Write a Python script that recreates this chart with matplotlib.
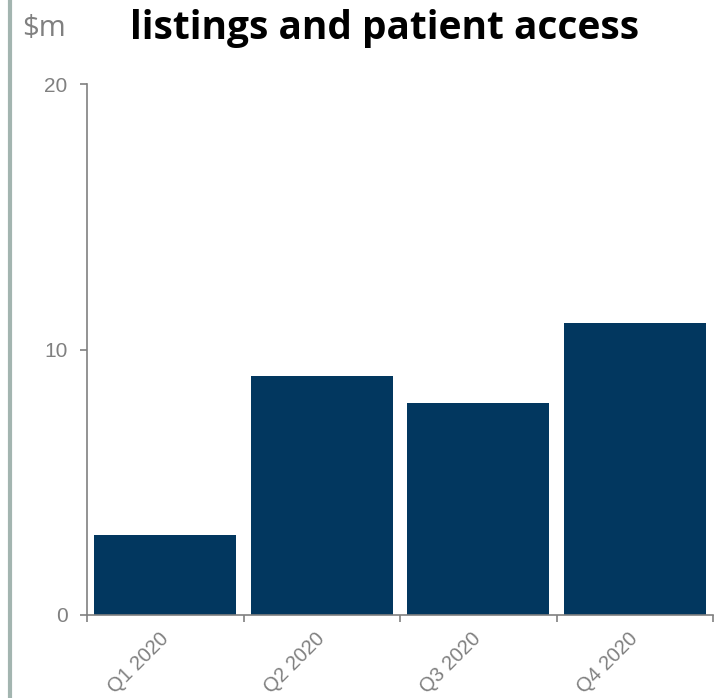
import matplotlib.pyplot as plt
from matplotlib.lines import Line2D
import numpy as np

quarters = ["Q1 2020", "Q2 2020", "Q3 2020", "Q4 2020"]
values = [3, 9, 8, 11]
y_ticks = [0, 10, 20]

BAR = "#02375F"
GREY = "#808080"

fig = plt.figure(figsize=(7.22, 6.98), dpi=100, facecolor="white")
ax = fig.add_axes([87 / 722, 83 / 698, 626 / 722, 531 / 698])

x = np.arange(len(quarters))
ax.bar(x, values, width=0.91, color=BAR, zorder=2)
ax.set_xlim(-0.5, len(quarters) - 0.5)
ax.set_ylim(0, 20)

# labels at category centres, tick marks at the boundaries
ax.set_xticks(x)
ax.set_xticklabels(quarters, rotation=45, ha="right", va="center", rotation_mode="anchor",
                   fontsize=14.5, color=GREY, family="Liberation Sans")
ax.set_xticks(np.arange(-0.5, len(quarters)), minor=True)
ax.tick_params(axis="x", which="major", length=0, pad=15)
ax.tick_params(axis="x", which="minor", length=5, direction="out", color=GREY, width=1.2)

ax.set_yticks(y_ticks)
ax.set_yticklabels([str(t) for t in y_ticks], fontsize=15, color=GREY, family="Liberation Sans")
ax.tick_params(axis="y", length=5, direction="out", color=GREY, width=1.2, pad=9)

for s in ["top", "right"]:
    ax.spines[s].set_visible(False)
for s in ["left", "bottom"]:
    ax.spines[s].set_color(GREY)
    ax.spines[s].set_linewidth(1.2)

# grey side rule
fig.add_artist(Line2D([9.5 / 722, 9.5 / 722], [0, 1], color="#A3B5B0", lw=3,
                      transform=fig.transFigure))

fig.text(22 / 722, 1 - 36 / 698, "$m", fontsize=21, color=GREY, family="Open Sans",
         ha="left", va="baseline")
fig.text(130 / 722, 1 - 39 / 698, "listings and patient access", fontsize=28,
         fontweight="bold", color="black", family="Open Sans", ha="left", va="baseline")

fig.savefig("out.png", dpi=100, facecolor="white")
